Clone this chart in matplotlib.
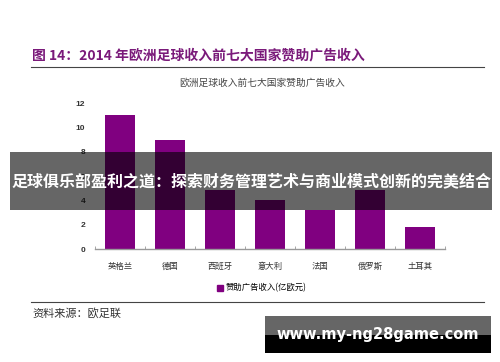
import matplotlib
matplotlib.use('Agg')
import matplotlib.pyplot as plt
from matplotlib.patches import Rectangle
from matplotlib.lines import Line2D

plt.rcParams['font.family'] = ['Noto Sans CJK SC', 'DejaVu Sans']

# data
countries = ['英格兰', '德国', '西班牙', '意大利', '法国', '俄罗斯', '土耳其']
revenue = [11.0, 9.0, 4.9, 4.0, 3.2, 4.9, 1.8]
yticks = [0, 2, 4, 6, 8, 10, 12]
series_name = '赞助广告收入(亿欧元)'
fig_title = '图 14：2014 年欧洲足球收入前七大国家赞助广告收入'
chart_title = '欧洲足球收入前七大国家赞助广告收入'
source = '资料来源：欧足联'
banner = '足球俱乐部盈利之道：探索财务管理艺术与商业模式创新的完美结合'
site = 'www.my-ng28game.com'

W, H = 500, 362
fig = plt.figure(figsize=(W / 100, H / 100), dpi=100)

def fx(px):
    return px / W

def fy(py):
    return 1 - py / H

purple = '#800080'

ax = fig.add_axes([fx(95), fy(249), fx(445) - fx(95), fy(103.3) - fy(249)])
x = list(range(len(countries)))
ax.bar(x, revenue, width=0.59, color=purple, zorder=2)
ax.set_xlim(-0.5, len(countries) - 0.5)
ax.set_ylim(0, 12)
ax.set_yticks(yticks)
ax.set_yticklabels([str(v) for v in yticks], fontsize=6, fontweight='bold',
                   family=['Liberation Sans', 'DejaVu Sans'], color='#333333')
ax.tick_params(axis='y', length=0, pad=7)
ax.set_xticks(x)
ax.set_xticklabels(countries, fontsize=6, color='#333333')
ax.tick_params(axis='x', which='major', length=0, pad=9)
ax.set_xticks([i - 0.5 for i in range(len(countries) + 1)], minor=True)
ax.tick_params(axis='x', which='minor', length=2.5, direction='in', color='#999999')
for s in ['top', 'right', 'left']:
    ax.spines[s].set_visible(False)
ax.spines['bottom'].set_color('#999999')
ax.spines['bottom'].set_linewidth(1)

# legend
handle = Rectangle((0, 0), 1, 1, color=purple)
ax.legend([handle], [series_name], loc='center', frameon=False, fontsize=6,
          bbox_to_anchor=(fx(262), fy(288)), bbox_transform=fig.transFigure,
          handlelength=0.7, handleheight=0.7, handletextpad=0.3)

# report header / footer
fig.text(fx(32), fy(55), fig_title, fontsize=10, fontweight='bold', color='#7a1a7a',
         va='center', ha='left')
fig.add_artist(Line2D([fx(31), fx(484)], [fy(67), fy(67)], color='#444444', lw=0.8))
fig.text(fx(262), fy(83), chart_title, fontsize=7, color='#444444', ha='center', va='center')
fig.add_artist(Line2D([fx(31), fx(484)], [fy(302), fy(302)], color='#444444', lw=0.8))
fig.text(fx(32), fy(313), source, fontsize=8, color='#333333', ha='left', va='center')

# overlay banner
fig.add_artist(Rectangle((fx(10), fy(210)), fx(492) - fx(10), fy(152) - fy(210),
                         transform=fig.transFigure, facecolor='black', alpha=0.6,
                         linewidth=0, zorder=10))
fig.text(fx(251), fy(181), banner, fontsize=11.5, fontweight='bold', color='white',
         ha='center', va='center', zorder=11)

# watermark box
fig.add_artist(Rectangle((fx(265), fy(335)), fx(491) - fx(265), fy(316) - fy(335),
                         transform=fig.transFigure, facecolor='#666666', linewidth=0, zorder=10))
fig.add_artist(Rectangle((fx(265), fy(353)), fx(491) - fx(265), fy(335) - fy(353),
                         transform=fig.transFigure, facecolor='black', linewidth=0, zorder=10))
fig.text(fx(378), fy(334), site, fontsize=10.5, fontweight='bold', color='white',
         family=['DejaVu Sans'], ha='center', va='center', zorder=11)

fig.savefig('out.png', dpi=100)
